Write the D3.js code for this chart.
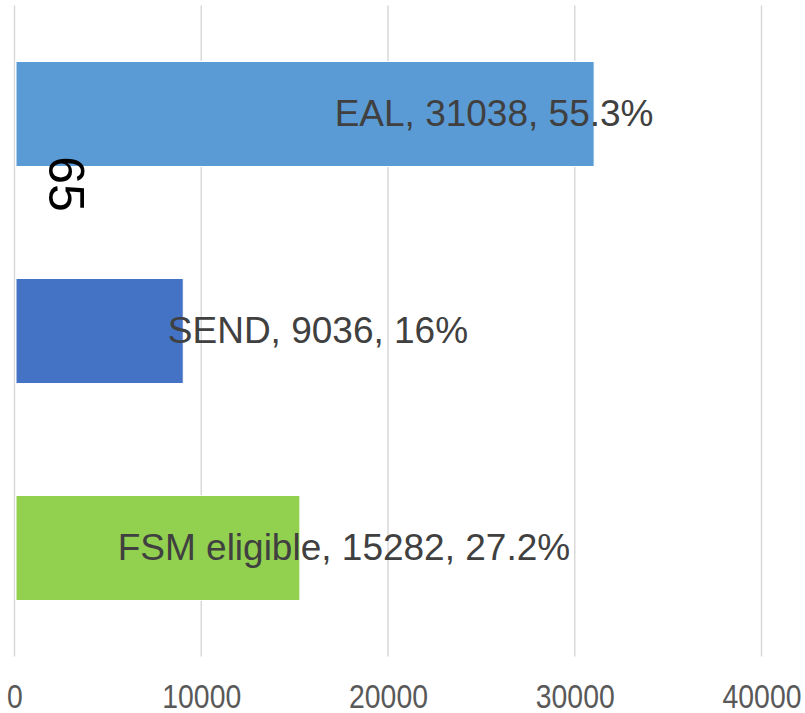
<!DOCTYPE html>
<html>
<head>
<meta charset="utf-8">
<script src="https://cdn.jsdelivr.net/npm/d3@7"></script>
<style>
  html, body { margin: 0; padding: 0; background: #fff; }
  svg { display: block; }
</style>
</head>
<body>
<div id="graph"></div>
<script>
// chart data
const categories = ["EAL", "SEND", "FSM eligible"];
const counts = [31038, 9036, 15282];
const shares = ["55.3%", "16%", "27.2%"];
const barColors = ["#5B9BD5", "#4472C4", "#92D050"];
const xTicks = [0, 10000, 20000, 30000, 40000];

const width = 805, height = 713;

let svg = d3.select("#graph").append("svg")
    .attr("width", width)
    .attr("height", height);

// scales
let x = d3.scaleLinear().domain([0, 40000]).range([14.5, 761.5]);
let y = d3.scaleBand().domain(categories).range([5.5, 656.5])
    .paddingInner(0.516).paddingOuter(0.258);

// gridlines
svg.append("g")
    .selectAll("line")
    .data(xTicks)
    .join("line")
    .attr("x1", d => x(d)).attr("x2", d => x(d))
    .attr("y1", 5.5).attr("y2", 656.5)
    .attr("stroke", "#d9d9d9")
    .attr("stroke-width", 1.5);

// bars
svg.append("g")
    .selectAll("rect")
    .data(categories)
    .join("rect")
    .attr("x", x(0) + 1.5)
    .attr("y", d => y(d))
    .attr("width", (d, i) => x(counts[i]) - x(0) - 1.5)
    .attr("height", y.bandwidth())
    .attr("fill", (d, i) => barColors[i])
    .attr("stroke", "#ffffff")
    .attr("stroke-width", 1);

// x axis labels (narrow font in the original, squeeze horizontally)
let xAxis = d3.axisBottom(x).tickValues(xTicks).tickSize(0).tickPadding(0)
    .tickFormat(d3.format("d"));
let ax = svg.append("g")
    .attr("transform", "translate(0,684.5)")
    .call(xAxis);
ax.select(".domain").remove();
ax.selectAll("text")
    .attr("font-family", "'Liberation Sans Narrow', 'Liberation Sans', sans-serif")
    .attr("font-size", 33)
    .attr("transform", "scale(0.86,1)")
    .attr("fill", "#595959");

// data labels (manually placed in the original, centre given in data units)
const labelCentre = [25680, 16250, 17640];
svg.append("g")
    .selectAll("text")
    .data(categories)
    .join("text")
    .attr("x", (d, i) => x(labelCentre[i]))
    .attr("y", d => y(d) + y.bandwidth() / 2 + 12)
    .attr("text-anchor", "middle")
    .attr("font-family", "'Liberation Sans', Arial, sans-serif")
    .attr("font-size", 37)
    .attr("fill", "#404040")
    .text((d, i) => d + ", " + counts[i] + ", " + shares[i]);

// stray rotated text
svg.append("text")
    .attr("transform", "translate(66,184) rotate(90)")
    .attr("text-anchor", "middle")
    .attr("dominant-baseline", "central")
    .attr("font-family", "'Liberation Sans', Arial, sans-serif")
    .attr("font-size", 50)
    .attr("fill", "#000")
    .text("65");
</script>
</body>
</html>
